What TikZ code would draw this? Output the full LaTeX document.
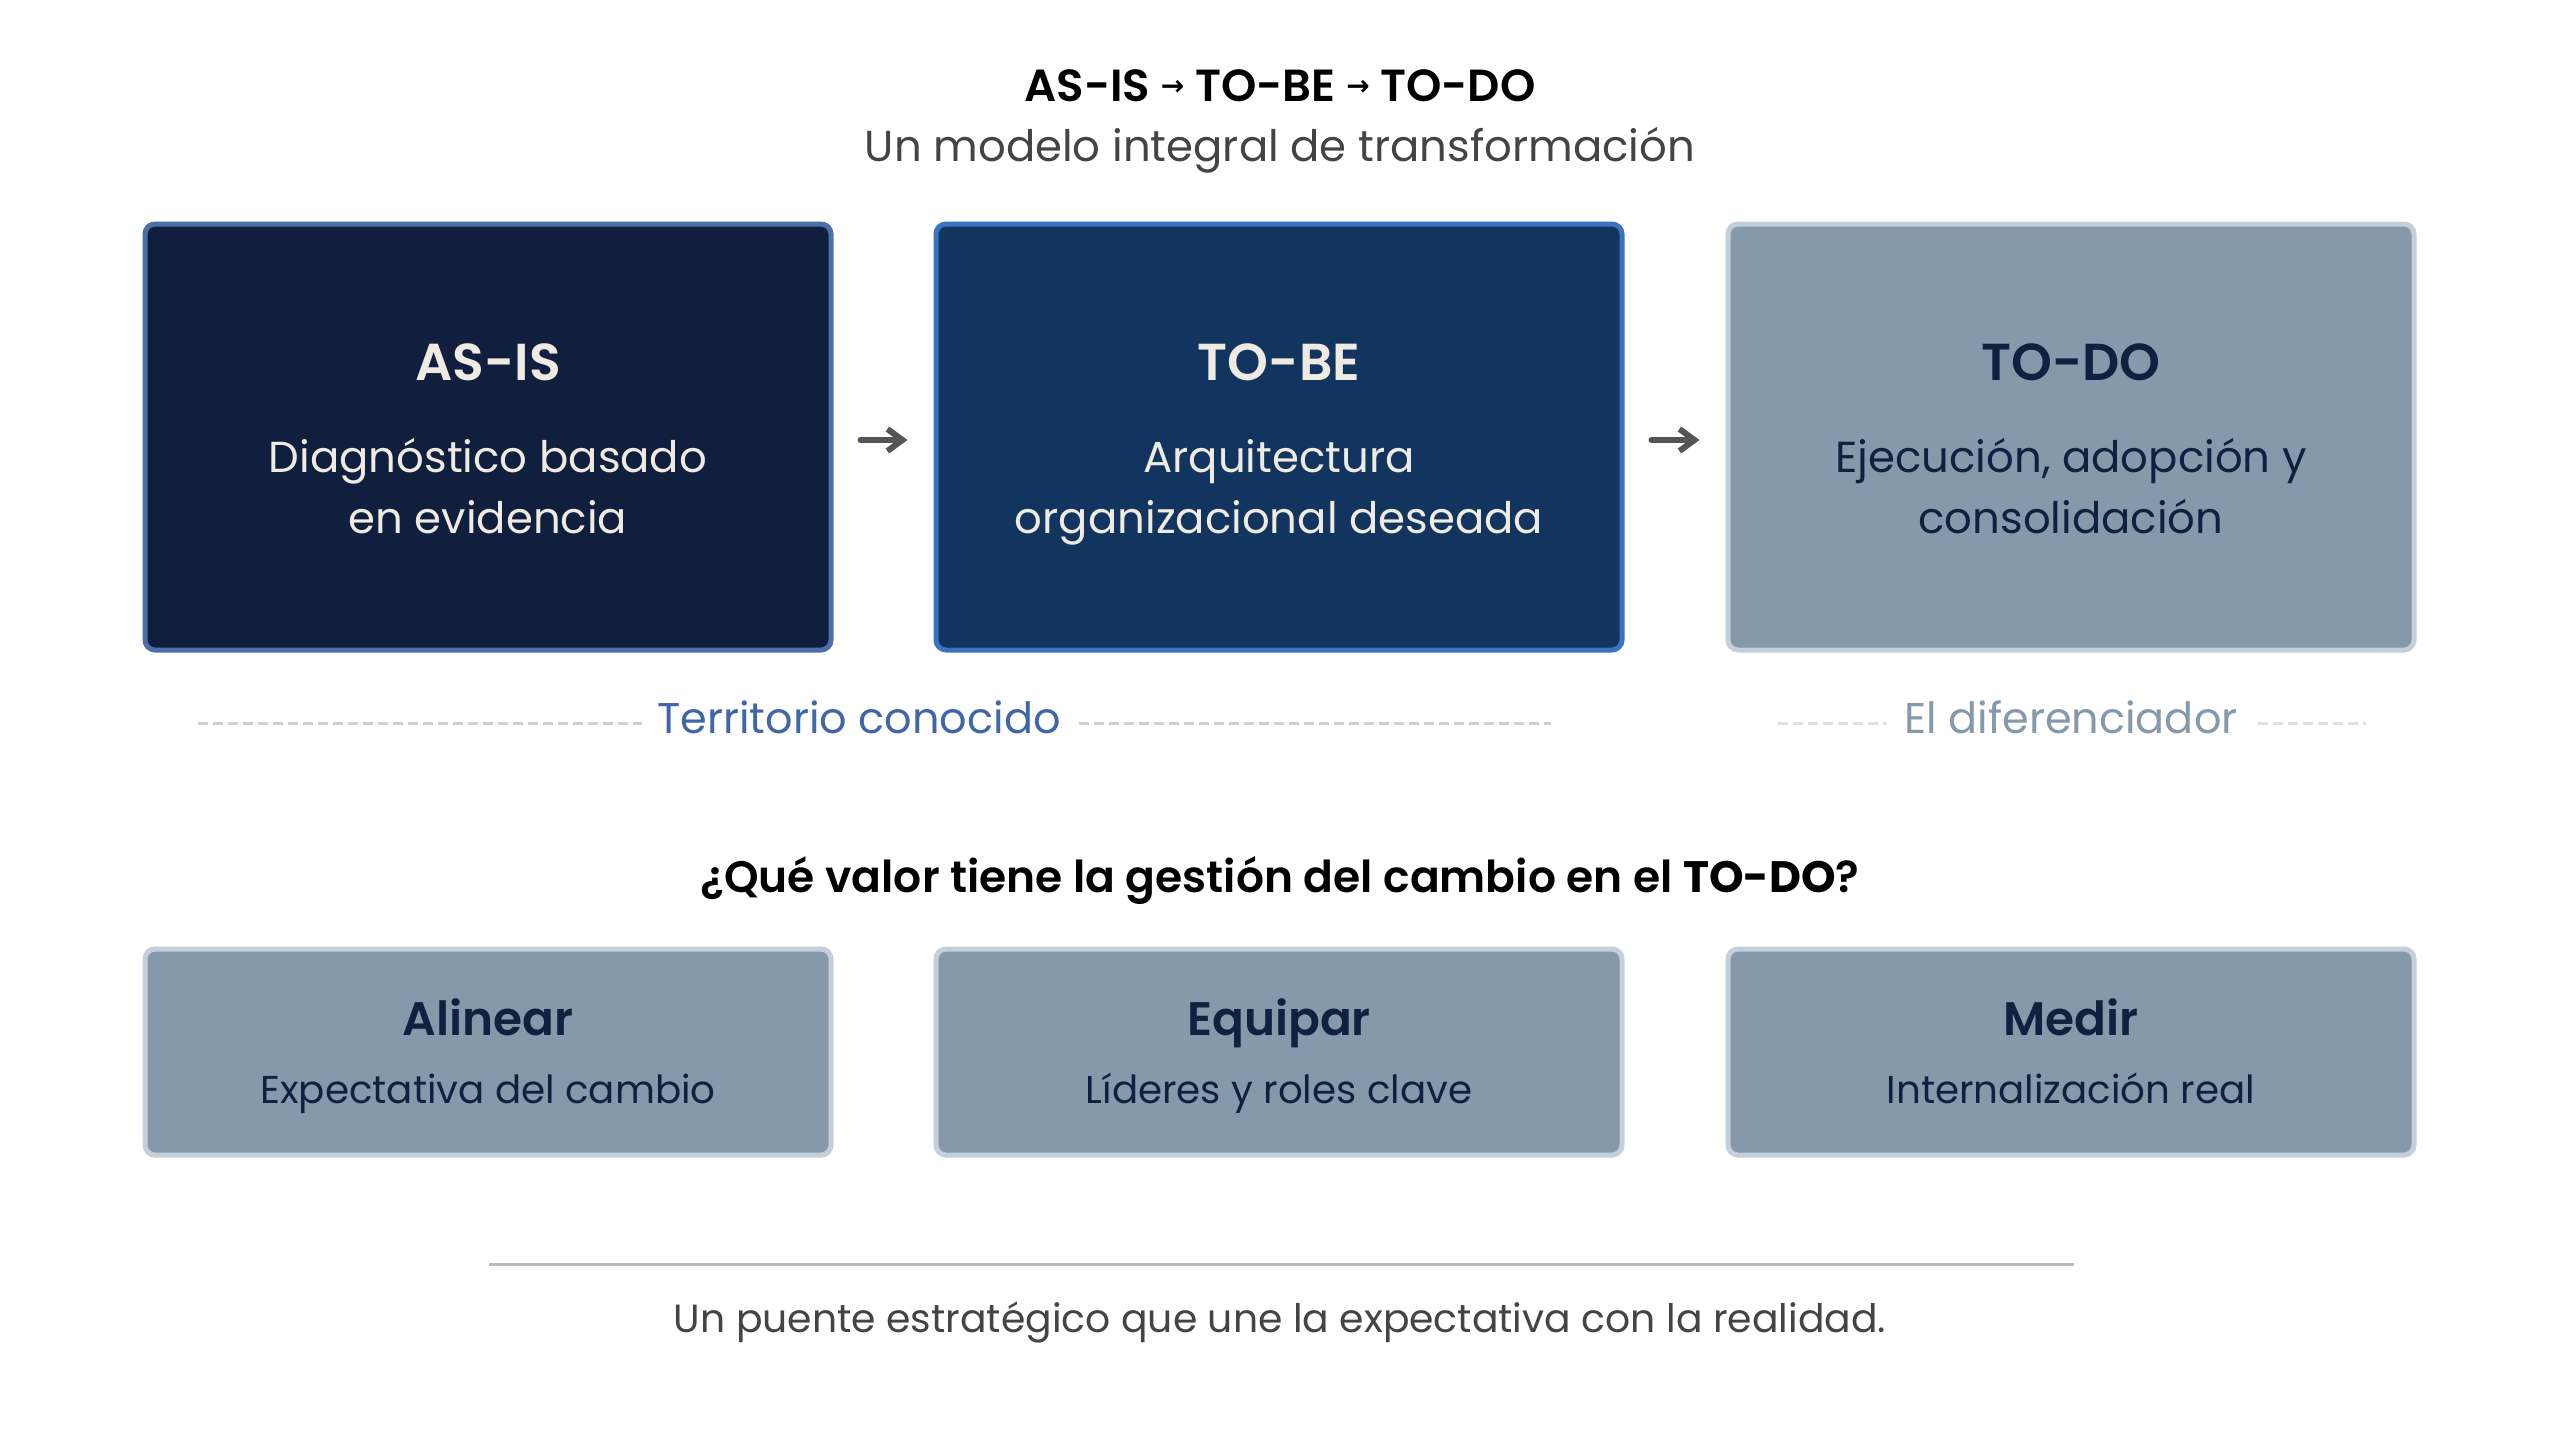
\documentclass[tikz,border=0pt]{standalone}
\usepackage{fontspec}
\setmainfont{Poppins}[BoldFont={Poppins SemiBold}]
\newfontfamily\heavyfont{Poppins}
\newfontfamily\arrowfont{DejaVu Sans}
\usetikzlibrary{arrows.meta}
\definecolor{navyA}{HTML}{0F1F3D}
\definecolor{navyAb}{HTML}{4B6FA8}
\definecolor{navyB}{HTML}{11355F}
\definecolor{navyBb}{HTML}{3A74BF}
\definecolor{slate}{HTML}{8599AB}
\definecolor{slateb}{HTML}{C3D0DB}
\definecolor{cream}{HTML}{EFEAE2}
\definecolor{ink}{HTML}{10213F}
\definecolor{arrowgray}{HTML}{555555}
\definecolor{dashgray}{HTML}{CFCFCF}
\definecolor{dashlight}{HTML}{DCE1E6}
\definecolor{terr}{HTML}{3F67A8}
\definecolor{subgray}{HTML}{444444}
\definecolor{rulegray}{HTML}{BBBBBB}
\newcommand{\tarrow}{{\arrowfont\bfseries\fontsize{28}{28}\selectfont\raisebox{6pt}{→}}}
\tikzset{
  card/.style={rounded corners=10pt, line width=5pt, minimum width=686pt, inner sep=0pt},
  bigcard/.style={card, minimum height=426pt},
  smallcard/.style={card, minimum height=206pt},
  cardA/.style={bigcard, fill=navyA, draw=navyAb},
  cardB/.style={bigcard, fill=navyB, draw=navyBb},
  cardC/.style={bigcard, fill=slate, draw=slateb},
  cardS/.style={smallcard, fill=slate, draw=slateb},
  ctitle/.style={anchor=base, font=\bfseries\fontsize{52}{60}\selectfont},
  cdesc/.style={anchor=base, align=center, font=\fontsize{43.4}{61}\selectfont},
  stitle/.style={anchor=base, font=\bfseries\fontsize{47}{55}\selectfont, text=ink},
  sdesc/.style={anchor=base, font=\fontsize{38.8}{45}\selectfont, text=ink},
  flow/.style={-{Straight Barb[length=15pt,width=22pt,line width=6pt]}, line width=6pt, color=arrowgray, line cap=round, shorten <=27pt, shorten >=26pt},
  dashline/.style={line width=3pt, dash pattern=on 10pt off 5pt},
}
\begin{document}
\begin{tikzpicture}[x=1pt,y=-1pt]
\useasboundingbox[fill=white] (0,0) rectangle (2560,1440);
% header
\node[anchor=base, font=\bfseries\fontsize{45}{52}\selectfont, text=black] (title) at (1280,101) {AS-IS \tarrow{} TO-BE \tarrow{} TO-DO};
\node[anchor=base, font=\fontsize{43.4}{50}\selectfont, text=subgray] (subtitle) at (1280,161) {Un modelo integral de transformación};
% top cards
\node[cardA] (asis) at (488,437) {};
\node[cardB] (tobe) at (1279,437) {};
\node[cardC] (todo) at (2071,437) {};
\node[ctitle, text=cream] (asis-t) at (488,380) {AS-IS};
\node[cdesc, text=cream] (asis-d) at (488,533) {Diagnóstico basado\\en evidencia};
\node[ctitle, text=cream] (tobe-t) at (1279,380) {TO-BE};
\node[cdesc, text=cream] (tobe-d) at (1279,533) {Arquitectura\\organizacional deseada};
\node[ctitle, text=ink] (todo-t) at (2071,380) {TO-DO};
\node[cdesc, text=ink] (todo-d) at (2071,533) {Ejecución, adopción y\\consolidación};
\draw[flow] (asis.east |- 0,440) -- (tobe.west |- 0,440);
\draw[flow] (tobe.east |- 0,440) -- (todo.west |- 0,440);
% territory labels
\node[anchor=base, font=\fontsize{43}{50}\selectfont, text=terr] (terr) at (859,733) {Territorio conocido};
\node[anchor=base, font=\fontsize{43}{50}\selectfont, text=slate] (dif) at (2071,733) {El diferenciador};
\coordinate (t1) at (198,723);
\coordinate (t2) at (642,723);
\coordinate (t3) at (1079,723);
\coordinate (t4) at (1551,723);
\coordinate (d1) at (1778,723);
\coordinate (d2) at (1887,723);
\coordinate (d3) at (2258,723);
\coordinate (d4) at (2366,723);
\draw[dashline, dashgray] (t1) -- (t2);
\draw[dashline, dashgray] (t3) -- (t4);
\draw[dashline, dashlight] (d1) -- (d2);
\draw[dashline, dashlight] (d3) -- (d4);
% question
\node[anchor=base, font=\bfseries\fontsize{44}{52}\selectfont, text=black] (question) at (1280,892) {¿Qué valor tiene la gestión del cambio en el {\heavyfont\bfseries TO-DO}?};
% bottom cards
\node[cardS] (alinear) at (488,1052) {};
\node[cardS] (equipar) at (1279,1052) {};
\node[cardS] (medir) at (2071,1052) {};
\node[stitle] (alinear-t) at (488,1035) {Alinear};
\node[sdesc] (alinear-d) at (488,1103) {Expectativa del cambio};
\node[stitle] (equipar-t) at (1279,1035) {Equipar};
\node[sdesc] (equipar-d) at (1279,1103) {Líderes y roles clave};
\node[stitle] (medir-t) at (2071,1035) {Medir};
\node[sdesc] (medir-d) at (2071,1103) {Internalización real};
% footer
\coordinate (r1) at (489,1264);
\coordinate (r2) at (2074,1264);
\draw[line width=3pt, rulegray] (r1) -- (r2);
\node[anchor=base, font=\fontsize{39.3}{45}\selectfont, text=subgray] (footer) at (1280,1332) {Un puente estratégico que une la expectativa con la realidad.};
\end{tikzpicture}
\end{document}
